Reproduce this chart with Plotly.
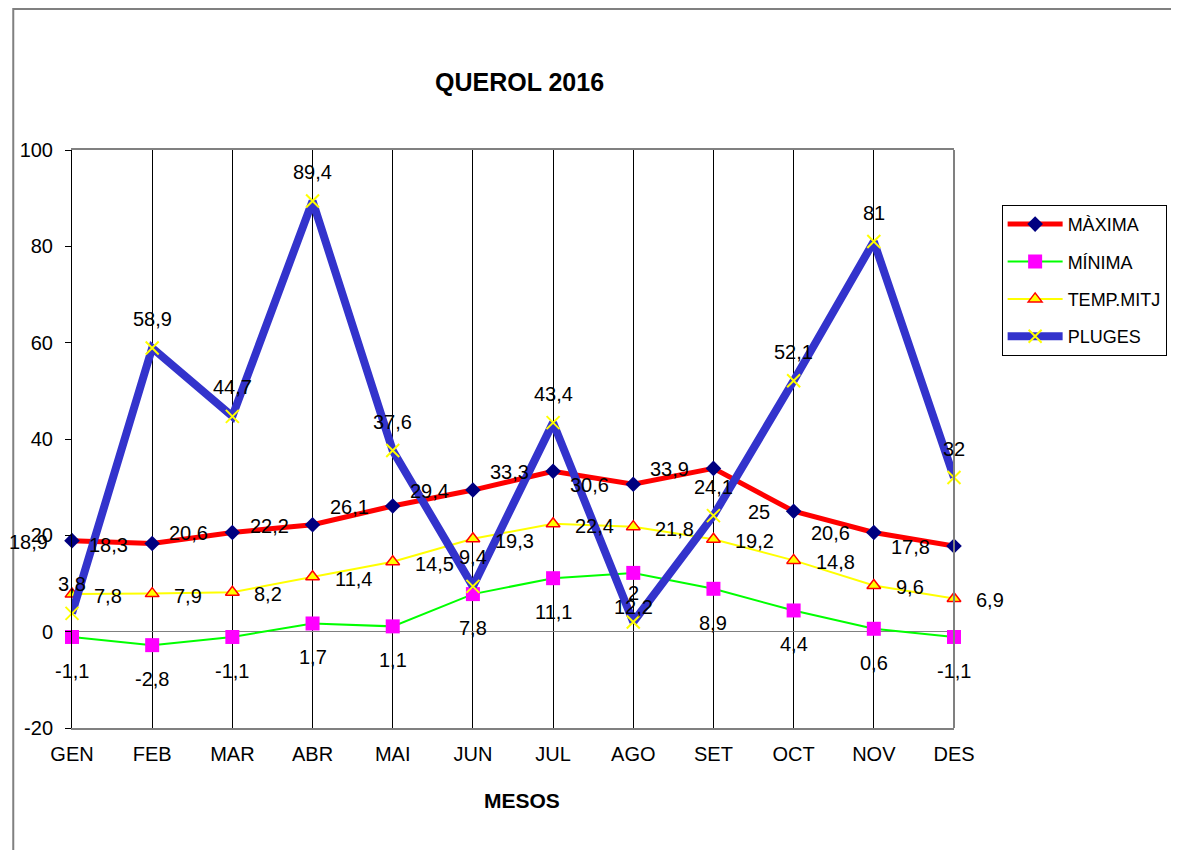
import plotly.graph_objects as go

months = ["GEN", "FEB", "MAR", "ABR", "MAI", "JUN", "JUL", "AGO", "SET", "OCT", "NOV", "DES"]
maxima = [18.9, 18.3, 20.6, 22.2, 26.1, 29.4, 33.3, 30.6, 33.9, 25, 20.6, 17.8]
minima = [-1.1, -2.8, -1.1, 1.7, 1.1, 7.8, 11.1, 12.2, 8.9, 4.4, 0.6, -1.1]
temp_mitj = [7.8, 7.9, 8.2, 11.4, 14.5, 19.3, 22.4, 21.8, 19.2, 14.8, 9.6, 6.9]
pluges = [3.8, 58.9, 44.7, 89.4, 37.6, 9.4, 43.4, 2, 24.1, 52.1, 81, 32]
y_ticks = [-20, 0, 20, 40, 60, 80, 100]
y_tick_labels = ["-20", "0", "20", "40", "60", "80", "100"]

FONT = "Liberation Sans, Arial, sans-serif"


def fmt(v):
    return f"{v:g}".replace(".", ",")


fig = go.Figure()
fig.add_trace(go.Scatter(
    x=months, y=maxima, name="MÀXIMA", mode="lines+markers", legendgroup="a",
    line=dict(color="#ff0000", width=5),
    marker=dict(symbol="diamond", color="#000080", size=12), cliponaxis=False))
fig.add_trace(go.Scatter(
    x=months, y=minima, name="MÍNIMA", mode="lines+markers", legendgroup="b",
    line=dict(color="#00ff00", width=2),
    marker=dict(symbol="square", color="#ff00ff", size=14), cliponaxis=False))
fig.add_trace(go.Scatter(
    x=months, y=temp_mitj, name="TEMP.MITJ", mode="lines+markers", legendgroup="c",
    line=dict(color="#ffff00", width=2),
    marker=dict(symbol="triangle-up", color="#ffff00", size=12,
                line=dict(color="#ff0000", width=1.5)), cliponaxis=False))
fig.add_trace(go.Scatter(
    x=months, y=pluges, name="PLUGES", mode="lines+markers", legendgroup="d",
    line=dict(color="#3333cc", width=8),
    marker=dict(symbol="x-thin", color="#ffff00", size=13,
                line=dict(color="#ffff00", width=2)), cliponaxis=False))

annotations = []
lab_font = dict(family=FONT, size=20, color="black")
for m, v in zip(months, maxima):
    annotations.append(dict(x=m, y=v, text=fmt(v), showarrow=False, xanchor="right",
                            yanchor="middle", xshift=-22, yshift=-1, font=lab_font))
for m, v in zip(months, minima):
    annotations.append(dict(x=m, y=v, text=fmt(v), showarrow=False, xanchor="center",
                            yanchor="middle", yshift=-34, font=lab_font))
for m, v in zip(months, temp_mitj):
    annotations.append(dict(x=m, y=v, text=fmt(v), showarrow=False, xanchor="left",
                            yanchor="middle", xshift=20, yshift=-2, font=lab_font))
for m, v in zip(months, pluges):
    annotations.append(dict(x=m, y=v, text=fmt(v), showarrow=False, xanchor="center",
                            yanchor="middle", yshift=29, font=lab_font))

annotations.append(dict(x=0.507, y=1.1176, xref="paper", yref="paper", text="<b>QUEROL 2016</b>",
                        showarrow=False, xanchor="center", yanchor="middle",
                        font=dict(family=FONT, size=25, color="black")))
annotations.append(dict(x=0.51, y=-0.1246, xref="paper", yref="paper", text="<b>MESOS</b>",
                        showarrow=False, xanchor="center", yanchor="middle",
                        font=dict(family=FONT, size=21, color="black")))

shapes = [
    dict(type="rect", xref="paper", yref="paper", x0=-0.0666, x1=1.3, y0=-0.3, y1=1.244,
         line=dict(color="#808080", width=2), layer="below"),
    dict(type="line", xref="paper", yref="paper", x0=1, x1=1, y0=0, y1=1,
         line=dict(color="#808080", width=2), layer="above"),
]

fig.update_layout(
    width=1171, height=842,
    margin=dict(l=60, r=225, t=142, b=122),
    paper_bgcolor="white", plot_bgcolor="white",
    font=dict(family=FONT, size=20, color="black"),
    showlegend=True,
    legend=dict(x=1.054, y=0.905, xanchor="left", yanchor="top",
                bordercolor="#000000", borderwidth=1, bgcolor="white",
                font=dict(family=FONT, size=18, color="black"),
                itemwidth=55, tracegroupgap=11, traceorder="grouped"),
    annotations=annotations,
    shapes=shapes,
    xaxis=dict(type="category", categoryorder="array", categoryarray=months,
               range=[0, 11], showgrid=True, gridcolor="#000000", gridwidth=1,
               showline=True, linecolor="#808080", linewidth=2, mirror=True,
               ticks="", ticklabelstandoff=7, tickfont=dict(family=FONT, size=20),
               zeroline=False),
    yaxis=dict(range=[-20, 100], tickmode="array", tickvals=y_ticks, ticktext=y_tick_labels,
               showgrid=False,
               zeroline=True, zerolinecolor="#808080", zerolinewidth=1,
               showline=True, linecolor="#000000", linewidth=1,
               ticks="outside", ticklen=6, tickcolor="#000000",
               ticklabelstandoff=8, tickfont=dict(family=FONT, size=20)),
)

fig.write_html("out.html")
